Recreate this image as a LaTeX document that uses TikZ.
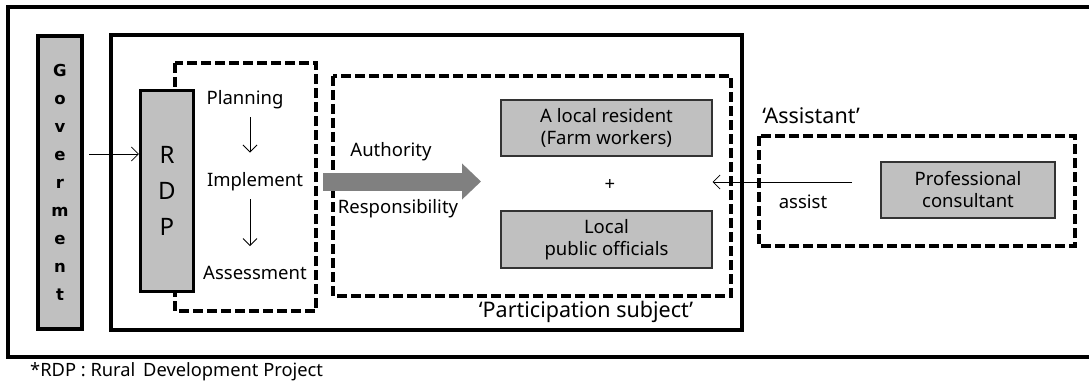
\documentclass[tikz,border=0pt]{standalone}
\usepackage{fontspec}
\setmainfont{Noto Sans}
\newfontfamily\govfont{DejaVu Sans}
\usetikzlibrary{arrows.meta,positioning}
\definecolor{boxgray}{HTML}{C0C0C0}
\definecolor{arrowgray}{HTML}{808080}
\tikzset{
	graybox/.style={draw=black!80, fill=boxgray, line width=1.2pt, inner sep=0pt, align=center, font=\fontsize{18.5}{22}\selectfont},
	tallbox/.style={draw=black, fill=boxgray, line width=3.2pt, inner sep=0pt, align=center},
	dashbox/.style={draw=black, line width=3.2pt, dash pattern=on 10pt off 4pt},
	solidbox/.style={draw=black, line width=3.2pt},
	thinarrow/.style={-{Straight Barb[length=7pt,width=14pt]}, line width=0.8pt},
	txt/.style={inner sep=0pt, font=\fontsize{18.5}{22}\selectfont},
	bigtxt/.style={inner sep=0pt, font=\fontsize{21.5}{26}\selectfont},
}

\begin{document}
\begin{tikzpicture}[x=1pt,y=-1pt]
	\useasboundingbox (0,0) rectangle (1089,385);
	\clip (0,0) rectangle (1089,385);
	% frames
	\draw[solidbox] (8,7) rectangle (1100,357);
	\draw[solidbox] (111,35) rectangle (742,330);
	\draw[dashbox] (175,63) rectangle (316,311);
	\draw[dashbox] (333,76) rectangle (731,296);
	\draw[dashbox] (759,136) rectangle (1075,246);
	% left column
	\node[tallbox, minimum width=44pt, minimum height=293pt, font=\govfont\bfseries\fontsize{16.5}{28}\selectfont] (gov) at (60,182.5) {G\\o\\v\\e\\r\\m\\e\\n\\t};
	\node[tallbox, minimum width=53pt, minimum height=201pt, font=\fontsize{24}{36}\selectfont] (rdp) at (167,191) {R\\D\\P};
	\coordinate (govout) at (89,154);
	\draw[thinarrow] (govout) -- (rdp.west |- govout);
	% RDP steps
	\node[txt] (plan) at (245,100) {Planning};
	\node[txt] (impl) at (255,182) {Implement};
	\node[txt] (assess) at (255,273) {Assessment};
	\draw[thinarrow, shorten <=8pt, shorten >=20pt] ([xshift=5pt]plan.south) -- ([xshift=-5pt]impl.north);
	\draw[thinarrow, shorten <=8pt, shorten >=20pt] ([xshift=-5pt]impl.south) -- ([xshift=-5pt]assess.north);
	% transfer
	\coordinate (bigA) at (323,181.5);
	\coordinate (bigB) at (481,181.5);
	\draw[arrowgray, line width=18pt, -{Triangle[length=19pt,width=35pt]}] (bigA) -- (bigB);
	\node[txt] (auth) at (391,152) {Authority};
	\node[txt] (resp) at (398,209) {Responsibility};
	% participation subject
	\node[graybox, minimum width=211pt, minimum height=56pt] (resident) at (606.5,128) {A local resident\\(Farm workers)};
	\node[txt] (plus) at (610,185) {+};
	\node[graybox, minimum width=211pt, minimum height=57pt] (officials) at (606.5,239.5) {Local\\public officials};
	\node[bigtxt] (partic) at (586,312) {‘Participation subject’};
	% assistant
	\node[bigtxt] (assistant) at (811,116) {‘Assistant’};
	\node[graybox, minimum width=174pt, minimum height=56pt] (consult) at (968,190) {Professional\\consultant};
	\coordinate (assistout) at (852,182);
	\draw[thinarrow] (assistout) -- (resident.east |- assistout);
	\node[txt] (assist) at (803,202) {assist};
	% note
	\node[txt, anchor=west, font=\fontsize{18.3}{21}\selectfont] (note) at (30,372) {*RDP : Rural\, Development Project};
\end{tikzpicture}
\end{document}
